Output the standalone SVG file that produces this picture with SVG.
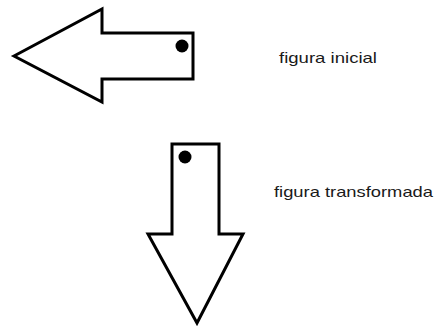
<svg xmlns="http://www.w3.org/2000/svg" width="439" height="328" viewBox="0 0 439 328">
<style>
.arrow{fill:#fff;stroke:#000;stroke-width:3;stroke-linejoin:miter}
.dot{fill:#000}
.lbl{font-family:"Liberation Sans",Arial,sans-serif;font-size:15px;fill:#1a1a1a}
</style>
<rect width="439" height="328" fill="#fff"/>
<g id="figura-inicial">
<polygon class="arrow" points="14,56 102,9 102,33 193,33 193,79 102,79 102,102"/>
<circle class="dot" cx="182" cy="46" r="6.5"/>
</g>
<g id="figura-transformada">
<polygon class="arrow" points="172,144 219,144 219,234 243,234 197,323 148,234 172,234"/>
<circle class="dot" cx="185" cy="157" r="6.5"/>
</g>
<g id="labels">
<text class="lbl" x="279" y="63" textLength="98" lengthAdjust="spacingAndGlyphs">figura inicial</text>
<text class="lbl" x="274" y="197" textLength="159" lengthAdjust="spacingAndGlyphs">figura transformada</text>
</g>
<g id="connectors"/>
</svg>
